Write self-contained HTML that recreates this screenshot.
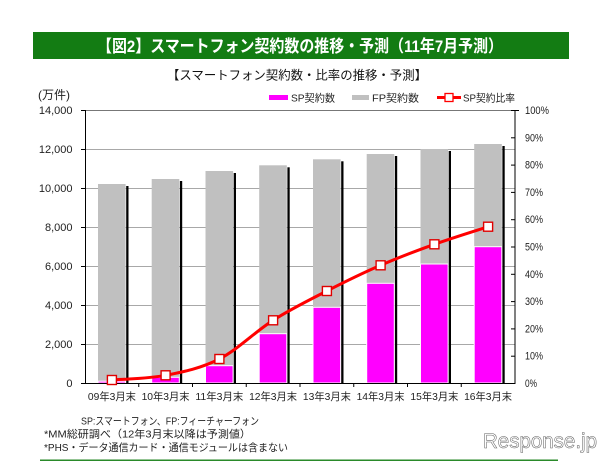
<!DOCTYPE html>
<html><head><meta charset="utf-8"><style>
html,body{margin:0;padding:0;background:#fff;}
svg{display:block;}
text{font-family:"Liberation Sans","Noto Sans CJK JP",sans-serif;}
</style></head><body>
<svg width="601" height="462" viewBox="0 0 601 462" xmlns="http://www.w3.org/2000/svg">
<rect x="0" y="0" width="601" height="462" fill="#fff"/>
<!-- banner -->
<rect x="33" y="32" width="536" height="27" fill="#137c13"/>
<text x="97" y="52" font-size="17" font-weight="bold" fill="#fff" textLength="406" lengthAdjust="spacingAndGlyphs">【図2】スマートフォン契約数の推移・予測（11年7月予測）</text>
<!-- subtitle -->
<text x="167" y="79.7" font-size="12.4" fill="#111" textLength="260" lengthAdjust="spacingAndGlyphs">【スマートフォン契約数・比率の推移・予測】</text>
<text x="38" y="99" font-size="12" fill="#222">(万件)</text>
<!-- legend -->
<rect x="269" y="95" width="19" height="5" fill="#ff00ff"/>
<text x="291" y="101.5" font-size="10.5" fill="#222" textLength="44" lengthAdjust="spacingAndGlyphs">SP契約数</text>
<rect x="352" y="95" width="17" height="5" fill="#c0c0c0"/>
<text x="372" y="101.5" font-size="10.5" fill="#222" textLength="47" lengthAdjust="spacingAndGlyphs">FP契約数</text>
<line x1="437" y1="97.5" x2="461" y2="97.5" stroke="#ff0000" stroke-width="3"/>
<rect x="445" y="93.5" width="8" height="8" fill="#fff" stroke="#ff0000" stroke-width="1.3"/>
<text x="463" y="101.5" font-size="10.5" fill="#222" textLength="52" lengthAdjust="spacingAndGlyphs">SP契約比率</text>
<!-- gridlines -->
<g stroke="#a8a8a8" stroke-width="1">
<line x1="85" y1="149.5" x2="515" y2="149.5"/>
<line x1="85" y1="188.5" x2="515" y2="188.5"/>
<line x1="85" y1="227.5" x2="515" y2="227.5"/>
<line x1="85" y1="266.5" x2="515" y2="266.5"/>
<line x1="85" y1="305.5" x2="515" y2="305.5"/>
<line x1="85" y1="344.5" x2="515" y2="344.5"/>
</g>
<line x1="85" y1="110.5" x2="515" y2="110.5" stroke="#777" stroke-width="1"/>
<!-- bars -->
<g>
<rect x="98" y="184" width="27.6" height="199" fill="#c0c0c0"/>
<rect x="151.7" y="179" width="27.6" height="204" fill="#c0c0c0"/>
<rect x="205.5" y="171" width="27.6" height="212" fill="#c0c0c0"/>
<rect x="259.2" y="165.3" width="27.6" height="217.7" fill="#c0c0c0"/>
<rect x="313" y="159.3" width="27.6" height="223.7" fill="#c0c0c0"/>
<rect x="366.7" y="154" width="27.6" height="229" fill="#c0c0c0"/>
<rect x="420.5" y="149" width="27.6" height="234" fill="#c0c0c0"/>
<rect x="474.2" y="144" width="27.6" height="239" fill="#c0c0c0"/>
</g>
<g fill="#ff00ff" stroke="#fff" stroke-width="1">
<rect x="98" y="381.2" width="27.6" height="1.8"/>
<rect x="151.7" y="377.3" width="27.6" height="5.7"/>
<rect x="205.5" y="365.7" width="27.6" height="17.3"/>
<rect x="259.2" y="333.7" width="27.6" height="49.3"/>
<rect x="313" y="307.3" width="27.6" height="75.7"/>
<rect x="366.7" y="283.3" width="27.6" height="99.7"/>
<rect x="420.5" y="264" width="27.6" height="119"/>
<rect x="474.2" y="246.7" width="27.6" height="136.3"/>
</g>
<g fill="#000">
<rect x="126.2" y="186" width="2.3" height="197"/>
<rect x="179.9" y="181" width="2.3" height="202"/>
<rect x="233.7" y="173" width="2.3" height="210"/>
<rect x="287.4" y="167.3" width="2.3" height="215.7"/>
<rect x="341.2" y="161.3" width="2.3" height="221.7"/>
<rect x="394.9" y="156" width="2.3" height="227"/>
<rect x="448.7" y="151" width="2.3" height="232"/>
<rect x="502.4" y="146" width="2.3" height="237"/>
</g>
<!-- axes -->
<g stroke="#000" stroke-width="1">
<line x1="85.5" y1="110" x2="85.5" y2="383.5"/>
<line x1="515" y1="110" x2="515" y2="383.5"/>
<line x1="85" y1="383.5" x2="515.5" y2="383.5"/>
<line x1="81" y1="110.5" x2="85" y2="110.5"/>
<line x1="81" y1="149.5" x2="85" y2="149.5"/>
<line x1="81" y1="188.5" x2="85" y2="188.5"/>
<line x1="81" y1="227.5" x2="85" y2="227.5"/>
<line x1="81" y1="266.5" x2="85" y2="266.5"/>
<line x1="81" y1="305.5" x2="85" y2="305.5"/>
<line x1="81" y1="344.5" x2="85" y2="344.5"/>
<line x1="81" y1="383.5" x2="85" y2="383.5"/>
<line x1="511" y1="110.5" x2="519" y2="110.5"/>
<line x1="511" y1="137.8" x2="515" y2="137.8"/>
<line x1="511" y1="165.1" x2="515" y2="165.1"/>
<line x1="511" y1="192.4" x2="515" y2="192.4"/>
<line x1="511" y1="219.7" x2="515" y2="219.7"/>
<line x1="511" y1="247" x2="515" y2="247"/>
<line x1="511" y1="274.3" x2="515" y2="274.3"/>
<line x1="511" y1="301.6" x2="515" y2="301.6"/>
<line x1="511" y1="328.9" x2="515" y2="328.9"/>
<line x1="511" y1="356.2" x2="515" y2="356.2"/>
<line x1="138.75" y1="383" x2="138.75" y2="387"/>
<line x1="192.5" y1="383" x2="192.5" y2="387"/>
<line x1="246.25" y1="383" x2="246.25" y2="387"/>
<line x1="300" y1="383" x2="300" y2="387"/>
<line x1="353.75" y1="383" x2="353.75" y2="387"/>
<line x1="407.5" y1="383" x2="407.5" y2="387"/>
<line x1="461.25" y1="383" x2="461.25" y2="387"/>
</g>
<!-- line -->
<path d="M111.9,380 C120.86,379.22 147.68,378.8 165.6,375.3 C183.52,371.8 201.48,368.17 219.4,359 C237.32,349.83 255.18,331.63 273.1,320.3 C291.02,308.97 308.98,300.17 326.9,291 C344.82,281.83 362.68,273.08 380.6,265.3 C398.52,257.52 416.48,250.73 434.4,244.3 C452.32,237.87 479.14,229.63 488.1,226.7" fill="none" stroke="#ff0000" stroke-width="3" stroke-linejoin="round"/>
<g fill="#fff" stroke="#e00000" stroke-width="1.4">
<rect x="107.4" y="375.5" width="9" height="9"/>
<rect x="161.1" y="370.8" width="9" height="9"/>
<rect x="214.9" y="354.5" width="9" height="9"/>
<rect x="268.6" y="315.8" width="9" height="9"/>
<rect x="322.4" y="286.5" width="9" height="9"/>
<rect x="376.1" y="260.8" width="9" height="9"/>
<rect x="429.9" y="239.8" width="9" height="9"/>
<rect x="483.6" y="222.2" width="9" height="9"/>
</g>
<!-- left labels -->
<g font-size="11" fill="#222" text-anchor="end">
<text x="72.5" y="114">14,000</text>
<text x="72.5" y="153">12,000</text>
<text x="72.5" y="192">10,000</text>
<text x="72.5" y="231">8,000</text>
<text x="72.5" y="270">6,000</text>
<text x="72.5" y="309">4,000</text>
<text x="72.5" y="348">2,000</text>
<text x="72.5" y="387">0</text>
</g>
<!-- right labels -->
<g font-size="11" fill="#222">
<text x="525" y="114" textLength="24" lengthAdjust="spacingAndGlyphs">100%</text>
<text x="525" y="141.3" textLength="18" lengthAdjust="spacingAndGlyphs">90%</text>
<text x="525" y="168.6" textLength="18" lengthAdjust="spacingAndGlyphs">80%</text>
<text x="525" y="195.9" textLength="18" lengthAdjust="spacingAndGlyphs">70%</text>
<text x="525" y="223.2" textLength="18" lengthAdjust="spacingAndGlyphs">60%</text>
<text x="525" y="250.5" textLength="18" lengthAdjust="spacingAndGlyphs">50%</text>
<text x="525" y="277.8" textLength="18" lengthAdjust="spacingAndGlyphs">40%</text>
<text x="525" y="305.1" textLength="18" lengthAdjust="spacingAndGlyphs">30%</text>
<text x="525" y="332.4" textLength="18" lengthAdjust="spacingAndGlyphs">20%</text>
<text x="525" y="359.7" textLength="18" lengthAdjust="spacingAndGlyphs">10%</text>
<text x="525" y="387" textLength="12" lengthAdjust="spacingAndGlyphs">0%</text>
</g>
<!-- x labels -->
<g font-size="10.5" fill="#222" text-anchor="middle">
<text x="111.9" y="400" textLength="48" lengthAdjust="spacingAndGlyphs">09年3月末</text>
<text x="165.6" y="400" textLength="48" lengthAdjust="spacingAndGlyphs">10年3月末</text>
<text x="219.4" y="400" textLength="48" lengthAdjust="spacingAndGlyphs">11年3月末</text>
<text x="273.1" y="400" textLength="48" lengthAdjust="spacingAndGlyphs">12年3月末</text>
<text x="326.9" y="400" textLength="48" lengthAdjust="spacingAndGlyphs">13年3月末</text>
<text x="380.6" y="400" textLength="48" lengthAdjust="spacingAndGlyphs">14年3月末</text>
<text x="434.4" y="400" textLength="48" lengthAdjust="spacingAndGlyphs">15年3月末</text>
<text x="488.1" y="400" textLength="48" lengthAdjust="spacingAndGlyphs">16年3月末</text>
</g>
<!-- notes -->
<g font-size="10.5" fill="#222">
<text x="81" y="424.5" textLength="178" lengthAdjust="spacingAndGlyphs">SP:スマートフォン、FP:フィーチャーフォン</text>
<text x="44" y="437.5" textLength="207" lengthAdjust="spacingAndGlyphs">*MM総研調べ（12年3月末以降は予測値）</text>
<text x="44" y="451" textLength="244" lengthAdjust="spacingAndGlyphs">*PHS・データ通信カード・通信モジュールは含まない</text>
</g>
<text x="483" y="448" font-size="21" fill="#ffffff" stroke="#666" stroke-width="0.55" textLength="114" lengthAdjust="spacingAndGlyphs">Response.jp</text>
<rect x="40" y="459.5" width="518" height="1.5" fill="#2a8a2a"/>
</svg>
</body></html>
